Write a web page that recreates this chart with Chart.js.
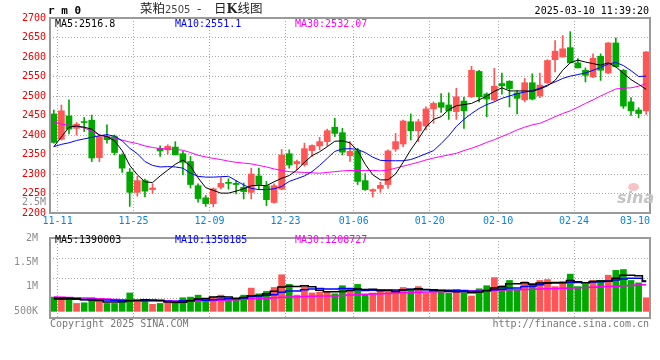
<!DOCTYPE html>
<html>
<head>
<meta charset="utf-8">
<script src="https://cdn.jsdelivr.net/npm/chart.js@4.4.1/dist/chart.umd.min.js"></script>
<style>
  body { margin: 0; background: #fff; }
  #wrap { position: relative; width: 660px; height: 360px; overflow: hidden;
          font-family: "DejaVu Sans Mono", monospace; font-size: 10px; }
  canvas { position: absolute; left: 0; }
  .t { position: absolute; white-space: pre; line-height: 10px; }
  .cjk { font-family: "Noto Sans CJK SC", sans-serif; font-size: 12.5px; line-height: 14px; color: #222; }
</style>
</head>
<body>
<div id="wrap">
  <canvas id="priceChart" width="660" height="232" style="top:0"></canvas>
  <canvas id="volChart" width="660" height="100" style="top:228px"></canvas>

  <div class="t" style="left:48px;top:5px;font-size:11px;line-height:11px;font-weight:bold;">r m 0</div>
  <div class="t cjk" style="left:140px;top:1px;">菜粕</div>
  <div class="t" style="left:165px;top:5px;font-family:'DejaVu Sans';font-size:10px;color:#444;">2505</div>
  <div class="t cjk" style="left:197px;top:1px;">-</div>
  <div class="t cjk" style="left:214px;top:1px;">日<b style="font-family:'DejaVu Serif';">K</b>线图</div>
  <div class="t" style="right:11px;top:6px;">2025-03-10 11:39:20</div>

  <div class="t" style="left:55px;top:19px;color:#000;">MA5:2516.8</div>
  <div class="t" style="left:175px;top:19px;color:#0000ff;">MA10:2551.1</div>
  <div class="t" style="left:295px;top:19px;color:#ff00ff;">MA30:2532.07</div>

  <div class="t" style="left:22px;top:197px;color:#8c8c8c;">2.5M</div>

  <div class="t" style="left:55px;top:235px;color:#000;">MA5:1390003</div>
  <div class="t" style="left:175px;top:235px;color:#0000ff;">MA10:1358185</div>
  <div class="t" style="left:295px;top:235px;color:#ff00ff;">MA30:1208727</div>

  <div class="t" style="left:50px;top:319px;color:#777;">Copyright 2025 SINA.COM</div>
  <div class="t" style="right:11px;top:319px;color:#777;">http://finance.sina.com.cn</div>

  <div style="position:absolute;left:628px;top:183px;width:11px;height:8px;border-radius:50%;background:#f6c4c4;"></div>
  <div class="t" style="left:617px;top:190px;font-family:'DejaVu Sans';font-size:16px;line-height:16px;font-style:italic;font-weight:bold;color:#c4c4c4;">sina</div>
</div>

<script>
// trading days, one candle each
const days = [
  '11-11','11-12','11-13','11-14','11-15','11-18','11-19','11-20','11-21','11-22','11-25','11-26','11-27','11-28','11-29',
  '12-02','12-03','12-04','12-05','12-06','12-09','12-10','12-11','12-12','12-13','12-16','12-17','12-18','12-19','12-20',
  '12-23','12-24','12-25','12-26','12-27','12-30','12-31',
  '01-02','01-03','01-06','01-07','01-08','01-09','01-10','01-13','01-14','01-15','01-16','01-17','01-20','01-21','01-22',
  '01-23','01-24','01-27',
  '02-05','02-06','02-07','02-10','02-11','02-12','02-13','02-14','02-17','02-18','02-19','02-20','02-21','02-24','02-25',
  '02-26','02-27','02-28',
  '03-03','03-04','03-05','03-06','03-07','03-10'
];
const tickDays = ['11-11','11-25','12-09','12-23','01-06','01-20','02-10','02-24','03-10'];

const openP = [
  2454,2389,2449,2417,2434,2438,2342,2396,2396,2349, 2305,2253,2283,2260,2366,2362,2369,2352,2332,2270,
  2239,2224,2266,2278,2276,2266,2253,2295,2270,2227, 2261,2352,2326,2324,2360,2372,2383,2420,2406,2347,
  2360,2283,2256,2263,2273,2364,2377,2434,2411,2423, 2467,2483,2477,2460,2487,2498,2563,2505,2490,2532,
  2538,2508,2490,2534,2500,2534,2593,2600,2624,2585, 2566,2549,2602,2559,2636,2566,2485,2464,2462
];
const highP = [
  2464,2477,2490,2432,2445,2451,2400,2426,2400,2352, 2314,2294,2287,2275,2372,2375,2383,2358,2345,2275,
  2245,2264,2291,2288,2283,2277,2315,2315,2281,2275, 2363,2362,2336,2379,2375,2394,2415,2443,2417,2383,
  2366,2301,2262,2279,2362,2404,2438,2454,2440,2472, 2485,2506,2508,2520,2497,2576,2566,2508,2571,2559,
  2539,2514,2545,2557,2559,2593,2642,2655,2665,2596, 2572,2608,2608,2637,2649,2568,2496,2470,2614
];
const lowP = [
  2379,2387,2403,2400,2409,2332,2332,2379,2349,2304, 2217,2243,2241,2250,2345,2351,2349,2298,2264,2228,
  2217,2216,2262,2261,2249,2236,2236,2261,2219,2225, 2260,2315,2311,2320,2345,2362,2372,2396,2349,2332,
  2273,2258,2241,2253,2263,2358,2370,2387,2383,2413, 2430,2458,2440,2440,2417,2496,2485,2447,2487,2505,
  2472,2454,2485,2490,2496,2532,2562,2600,2585,2572, 2536,2547,2540,2557,2574,2468,2450,2444,2453
];
const closeP = [
  2381,2462,2415,2428,2432,2341,2396,2388,2355,2315, 2253,2283,2256,2264,2359,2371,2349,2330,2273,2237,
  2224,2262,2276,2276,2273,2255,2300,2273,2234,2270, 2349,2323,2332,2365,2373,2383,2411,2404,2356,2358,
  2281,2260,2260,2271,2359,2383,2436,2411,2434,2467, 2481,2471,2462,2498,2462,2566,2498,2492,2525,2526,
  2519,2494,2534,2492,2528,2591,2615,2621,2585,2572, 2553,2597,2566,2636,2575,2474,2462,2455,2613
];

const ma5 = [
  2370,2395,2420,2423,2420,2415,2400,2396,2385,2360, 2322,2298,2280,2278,2295,2310,2325,2336,2320,2290,
  2265,2258,2251,2251,2256,2262,2270,2271,2270,2280, 2289,2296,2310,2330,2347,2357,2370,2384,2385,2380,
  2360,2325,2298,2285,2285,2300,2330,2362,2390,2420, 2440,2447,2465,2475,2478,2481,2490,2500,2512,2521,
  2513,2513,2513,2512,2518,2526,2540,2566,2585,2592, 2587,2583,2579,2585,2575,2558,2542,2530,2517
];
const ma10 = [
  2370,2376,2380,2386,2390,2394,2398,2401,2397,2385, 2366,2352,2332,2322,2318,2319,2318,2315,2302,2294,
  2292,2292,2293,2294,2283,2272,2263,2260,2260,2262, 2268,2281,2288,2295,2306,2322,2340,2358,2364,2365,
  2363,2355,2343,2335,2334,2334,2334,2337,2344,2352, 2360,2378,2398,2422,2440,2455,2468,2478,2485,2494,
  2500,2506,2510,2514,2520,2528,2536,2545,2551,2555, 2559,2566,2573,2582,2586,2578,2565,2550,2551
];
const ma30 = [
  2434,2428,2425,2422,2418,2410,2400,2396,2392,2387, 2382,2378,2372,2368,2365,2364,2363,2361,2355,2348,
  2344,2340,2337,2333,2330,2328,2326,2322,2318,2313, 2309,2306,2305,2304,2303,2302,2304,2306,2308,2309,
  2309,2309,2309,2308,2310,2315,2320,2325,2330,2336, 2341,2345,2349,2353,2360,2366,2373,2381,2388,2396,
  2404,2413,2420,2426,2430,2438,2447,2455,2462,2471, 2481,2490,2500,2509,2518,2520,2521,2525,2532
];

const volume = [
  650000,650000,580000,360000,390000,620000,430000,360000,360000,430000,
  840000,510000,510000,320000,360000,430000,360000,620000,650000,740000,
  590000,650000,740000,510000,510000,740000,1060000,800000,910000,1090000,
  1670000,1230000,740000,1130000,840000,880000,870000,800000,1170000,1030000,
  1230000,770000,840000,990000,990000,960000,1090000,990000,1130000,840000,
  910000,870000,840000,990000,840000,700000,1030000,1170000,1540000,1170000,
  1410000,1010000,1350000,1260000,1410000,1450000,1130000,1350000,1700000,1130000,
  1230000,1410000,1410000,1650000,1870000,1910000,1410000,1300000,620000
];
const volMa5 = [
  600000,600000,600000,580000,530000,520000,480000,430000,430000,440000,
  480000,500000,530000,520000,510000,430000,400000,420000,480000,560000,
  590000,650000,670000,650000,600000,630000,710000,720000,800000,920000,
  1110000,1140000,1130000,1170000,1120000,960000,890000,900000,910000,950000,
  1020000,1000000,1010000,970000,960000,910000,970000,1000000,1030000,1000000,
  990000,950000,920000,890000,890000,850000,880000,950000,1060000,1120000,
  1260000,1260000,1300000,1240000,1290000,1300000,1320000,1320000,1410000,1350000,
  1310000,1360000,1380000,1370000,1510000,1650000,1650000,1630000,1390000
];
const volMa10 = [
  550000,550000,550000,550000,540000,540000,530000,520000,510000,490000,
  500000,490000,480000,480000,480000,460000,450000,480000,500000,540000,
  510000,530000,550000,570000,580000,610000,680000,700000,730000,760000,
  870000,930000,930000,990000,1020000,1040000,1020000,1020000,1040000,1040000,
  990000,950000,960000,940000,960000,970000,990000,1010000,1000000,980000,
  950000,960000,960000,960000,950000,920000,920000,940000,980000,1010000,
  1060000,1070000,1130000,1150000,1210000,1280000,1290000,1310000,1330000,1320000,
  1310000,1340000,1350000,1390000,1430000,1480000,1510000,1510000,1358000
];
const volMa30 = [
  650000,640000,630000,620000,610000,590000,570000,560000,540000,530000,
  520000,510000,500000,490000,480000,480000,470000,470000,470000,480000,
  490000,500000,510000,520000,530000,550000,570000,580000,600000,620000,
  640000,660000,670000,680000,690000,700000,700000,700000,720000,750000,
  770000,780000,790000,800000,820000,840000,850000,860000,870000,880000,
  890000,900000,910000,910000,920000,930000,940000,950000,960000,970000,
  980000,990000,1000000,1010000,1020000,1030000,1040000,1050000,1070000,1080000,
  1090000,1100000,1120000,1130000,1150000,1170000,1180000,1200000,1209000
];
const volTickValues = [500000, 1000000, 1500000, 2000000];

const UP = '#ff5555';
const DOWN = '#00a800';
const GRID = '#a8a8a8';
const MONO = '"DejaVu Sans Mono", monospace';

const candleColors = days.map((d, i) => closeP[i] >= openP[i] ? UP : DOWN);
const points = arr => arr.map((v, i) => ({ x: i, y: v }));

// solid frame round the plot area
const framePlugin = {
  id: 'frame',
  afterDatasetsDraw(chart) {
    const { ctx, chartArea: a } = chart;
    ctx.save();
    ctx.strokeStyle = '#9a9a9a';
    ctx.lineWidth = 2;
    ctx.strokeRect(a.left, a.top, a.right - a.left, a.bottom - a.top);
    ctx.restore();
  }
};

function xAxis(showLabels, height) {
  return {
    type: 'linear',
    min: -0.5,
    max: days.length - 0.5,
    offset: false,
    afterBuildTicks: s => {
      s.ticks = [{ value: -0.5 }].concat(tickDays.map(d => ({ value: days.indexOf(d) + 0.5 })));
    },
    afterFit: s => { s.height = height; },
    ticks: {
      display: showLabels,
      autoSkip: false,
      maxRotation: 0,
      align: 'inner',
      padding: 2,
      color: '#0b84de',
      font: { family: MONO, size: 10 },
      callback: (v, i) => i === 0 ? '' : tickDays[i - 1]
    },
    grid: {
      offset: false,
      drawTicks: false,
      color: c => (c.index === 0 || c.index === tickDays.length) ? 'transparent' : GRID
    },
    border: { display: false, dash: [1, 2] }
  };
}

function maLine(arr, color, width, stepped) {
  return {
    type: 'line',
    data: points(arr),
    borderColor: color,
    borderWidth: width,
    pointRadius: 0,
    tension: 0,
    stepped: stepped,
    order: 0
  };
}

// Price chart
new Chart(document.getElementById('priceChart'), {
  type: 'bar',
  data: {
    datasets: [
      maLine(ma5, '#000000', 1, false),
      maLine(ma10, '#0000ff', 1, false),
      maLine(ma30, '#ff00ff', 1, false),
      {
        data: days.map((d, i) => ({ x: i, y: [openP[i], closeP[i]] })),
        backgroundColor: candleColors,
        barThickness: 6,
        minBarLength: 1,
        grouped: false,
        order: 1
      },
      {
        data: days.map((d, i) => ({ x: i, y: [lowP[i], highP[i]] })),
        backgroundColor: candleColors,
        barThickness: 1,
        grouped: false,
        order: 2
      }
    ]
  },
  options: {
    responsive: false,
    animation: false,
    layout: { padding: { top: 18, right: 10, left: 0, bottom: 0 } },
    plugins: { legend: { display: false }, tooltip: { enabled: false } },
    scales: {
      x: xAxis(true, 19),
      y: {
        min: 2200,
        max: 2700,
        afterFit: s => { s.width = 50; },
        ticks: {
          stepSize: 50,
          padding: 4,
          color: '#ee0000',
          font: { family: MONO, size: 10 },
          callback: v => String(v)
        },
        grid: {
          drawTicks: false,
          color: c => (c.tick && (c.tick.value === 2200 || c.tick.value === 2700)) ? 'transparent' : GRID
        },
        border: { display: false, dash: [1, 2] }
      }
    }
  },
  plugins: [framePlugin]
});

// Volume chart
new Chart(document.getElementById('volChart'), {
  type: 'bar',
  data: {
    datasets: [
      maLine(volMa5, '#000000', 1.5, 'middle'),
      maLine(volMa10, '#0000ff', 1.5, 'middle'),
      maLine(volMa30, '#ff00ff', 1.5, 'middle'),
      {
        data: points(volume),
        backgroundColor: candleColors,
        barThickness: 6,
        grouped: false,
        order: 1
      }
    ]
  },
  options: {
    responsive: false,
    animation: false,
    layout: { padding: { top: 6, right: 10, left: 0, bottom: 10 } },
    plugins: { legend: { display: false }, tooltip: { enabled: false } },
    scales: {
      x: xAxis(false, 0),
      y: {
        position: 'left',
        min: -304000,
        max: 3348000,
        afterFit: s => { s.width = 0; },
        afterBuildTicks: s => {
          s.ticks = [1, 2, 3].map(k => ({ value: s.min + k * (s.max - s.min) / 4 }));
        },
        ticks: { display: false },
        grid: { drawTicks: false, color: GRID },
        border: { display: false, dash: [1, 2] }
      },
      yl: {
        position: 'left',
        min: 364000,
        max: 2000000,
        afterFit: s => { s.width = 50; },
        afterBuildTicks: s => { s.ticks = volTickValues.map(v => ({ value: v })); },
        ticks: {
          padding: 4,
          color: '#8c8c8c',
          font: { family: MONO, size: 10 },
          callback: v => v >= 1000000 ? (v / 1000000) + 'M' : (v / 1000) + 'K'
        },
        grid: { display: false },
        border: { display: false }
      }
    }
  },
  plugins: [framePlugin]
});
</script>
</body>
</html>
